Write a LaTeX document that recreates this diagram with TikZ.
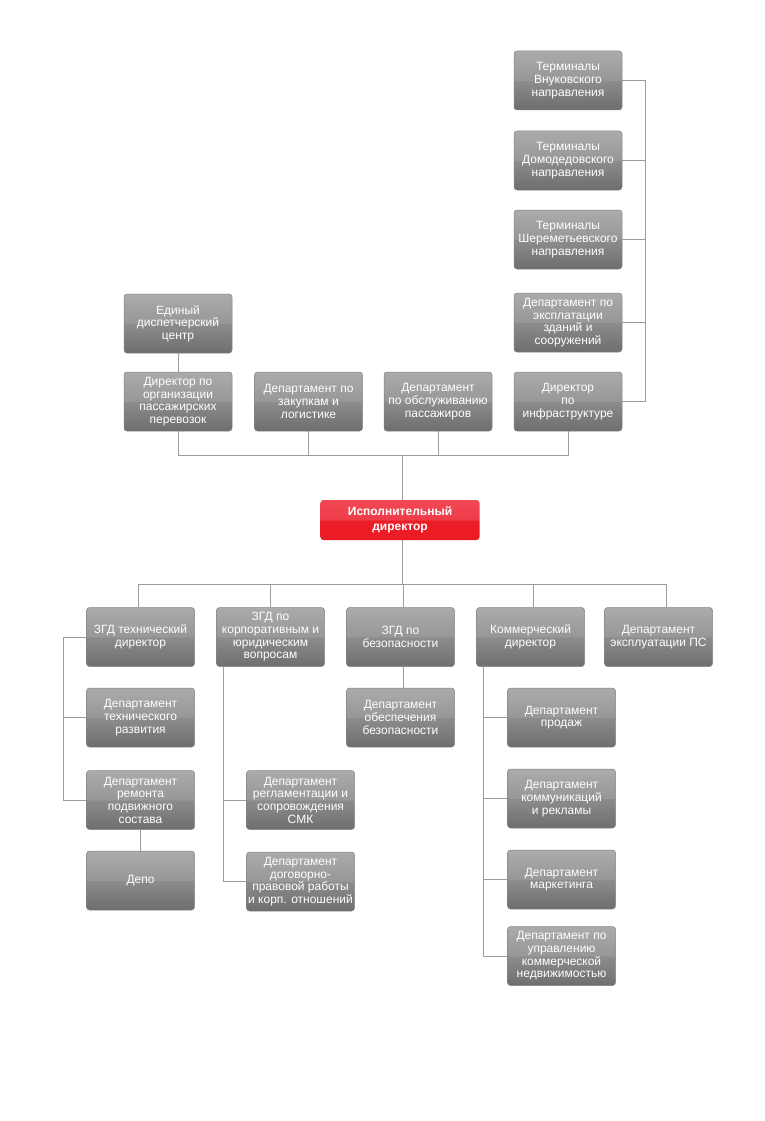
\documentclass[tikz,border=0pt]{standalone}
\usepackage{fontspec}
\setmainfont{Liberation Sans}
\definecolor{gtopA}{HTML}{ABABAB}
\definecolor{gtopB}{HTML}{979797}
\definecolor{gbotA}{HTML}{8C8C8C}
\definecolor{gbotB}{HTML}{6E6E6E}
\definecolor{gedge}{HTML}{858585}
\definecolor{rtopA}{HTML}{F14854}
\definecolor{rtopB}{HTML}{EE3C49}
\definecolor{rbotA}{HTML}{ED1D27}
\definecolor{rbotB}{HTML}{EB1B24}
\definecolor{wire}{HTML}{9C9C9C}
\pgfdeclareverticalshading{grayshade}{100bp}{color(0bp)=(gbotB); color(25bp)=(gbotB); color(49.8bp)=(gbotA); color(50.2bp)=(gtopB); color(75bp)=(gtopA); color(100bp)=(gtopA)}
\pgfdeclareverticalshading{redshade}{100bp}{color(0bp)=(rbotB); color(25bp)=(rbotB); color(49.8bp)=(rbotA); color(50.2bp)=(rtopB); color(75bp)=(rtopA); color(100bp)=(rtopA)}
\tikzset{
  box/.style={rounded corners=3pt, draw=gedge, line width=0.5pt,
    shading=grayshade,
    minimum width=108pt, minimum height=59pt, inner sep=1pt,
    text=white, align=center, font=\fontsize{12}{12.7}\selectfont},
  redbox/.style={rounded corners=3pt, draw=none, shading=redshade,
    minimum width=159pt, minimum height=40pt, inner sep=1pt,
    text=white, align=center, font=\fontsize{12}{15}\selectfont\bfseries},
  wireline/.style={draw=wire, line width=1pt}
}
\begin{document}
\begin{tikzpicture}[x=1pt,y=-1pt]
\useasboundingbox[fill=white] (0,0) rectangle (764,1121);

% right column
\node[box] (vnuk)   at (568,80.5)  {Терминалы\\Внуковского\\направления};
\node[box] (domod)  at (568,160.5) {Терминалы\\Домодедовского\\направления};
\node[box] (sherem) at (568,239.5) {Терминалы\\Шереметьевского\\направления};
\node[box] (expl)   at (568,322.5) {Департамент по\\эксплатации\\зданий и\\сооружений};
\node[box] (infra)  at (568,401.5) {Директор\\по\\инфраструктуре};

% top row
\node[box] (edc)  at (178,323.5) {Единый\\диспетчерский\\центр};
\node[box] (org)  at (178,401.5) {Директор по\\организации\\пассажирских\\перевозок};
\node[box] (zak)  at (308.5,401.5) {Департамент по\\закупкам и\\логистике};
\node[box] (obsl) at (438,401.5) {Департамент\\по обслуживанию\\пассажиров};

% executive
\node[redbox] (exec) at (400,520) {Исполнительный\\директор};

% bottom row
\node[box] (zgdt) at (140.5,637) {ЗГД технический\\директор};
\node[box] (corp) at (270.5,637) {ЗГД по\\корпоративным и\\юридическим\\вопросам};
\node[box] (zgdb) at (400.5,637) {ЗГД по\\безопасности};
\node[box] (kom)  at (530.5,637) {Коммерческий\\директор};
\node[box] (ps)   at (658.5,637) {Департамент\\эксплуатации ПС};

\node[box] (razv)  at (140.5,717.5) {Департамент\\технического\\развития};
\node[box] (rem)   at (140.5,800)   {Департамент\\ремонта\\подвижного\\состава};
\node[box] (depo)  at (140.5,880.5) {Депо};

\node[box] (reg) at (300.5,800)   {Департамент\\регламентации и\\сопровождения\\СМК};
\node[box] (dog) at (300.5,881.5) {Департамент\\договорно-\\правовой работы\\и корп. отношений};

\node[box] (obesp) at (400.5,717.5) {Департамент\\обеспечения\\безопасности};

\node[box] (prod)   at (561.5,717.5) {Департамент\\продаж};
\node[box] (kommun) at (561.5,798.5) {Департамент\\коммуникаций\\и рекламы};
\node[box] (mark)   at (561.5,879.5) {Департамент\\маркетинга};
\node[box] (nedv)   at (561.5,956)   {Департамент по\\управлению\\коммерческой\\недвижимостью};

% buses and spines
\coordinate (tbus) at (0,455);
\coordinate (bbus) at (0,584);
\coordinate (rspine) at ([xshift=23pt]vnuk.east);
\coordinate (lspine) at ([xshift=-23pt]zgdt.west);
\coordinate (cspine) at ([xshift=7pt]corp.south west);
\coordinate (kspine) at ([xshift=7pt]kom.south west);
\coordinate (psin) at ([xshift=8pt]ps.north);

% right column connectors
\draw[wireline] (vnuk.east) -- (rspine |- vnuk.east) -- (rspine |- infra.east) -- (infra.east);
\draw[wireline] (domod.east) -- (rspine |- domod.east);
\draw[wireline] (sherem.east) -- (rspine |- sherem.east);
\draw[wireline] (expl.east) -- (rspine |- expl.east);

% top bus
\draw[wireline] (edc.south) -- (org.north);
\draw[wireline] (org.south) -- (org.south |- tbus) -- (infra.south |- tbus) -- (infra.south);
\draw[wireline] (zak.south) -- (zak.south |- tbus);
\draw[wireline] (obsl.south) -- (obsl.south |- tbus);
\draw[wireline] ([xshift=2pt]exec.north) -- ([xshift=2pt]exec.north |- tbus);

% bottom bus
\draw[wireline] ([xshift=2pt]exec.south) -- ([xshift=2pt]exec.south |- bbus);
\draw[wireline] ([xshift=-2.5pt]zgdt.north) -- ([xshift=-2.5pt]zgdt.north |- bbus) -- (psin |- bbus) -- (psin);
\draw[wireline] (corp.north) -- (corp.north |- bbus);
\draw[wireline] ([xshift=2.5pt]zgdb.north) -- ([xshift=2.5pt]zgdb.north |- bbus);
\draw[wireline] ([xshift=2.5pt]kom.north) -- ([xshift=2.5pt]kom.north |- bbus);

% technical column
\draw[wireline] (zgdt.west) -- (lspine |- zgdt.west) -- (lspine |- rem.west) -- (rem.west);
\draw[wireline] (razv.west) -- (lspine |- razv.west);
\draw[wireline] (rem.south) -- (depo.north);

% corporate column
\draw[wireline] (cspine) -- (cspine |- dog.west) -- (dog.west);
\draw[wireline] (reg.west) -- (cspine |- reg.west);

% security
\draw[wireline] ([xshift=2.5pt]zgdb.south) -- ([xshift=2.5pt]obesp.north);

% commercial column
\draw[wireline] (kspine) -- (kspine |- nedv.west) -- (nedv.west);
\draw[wireline] (prod.west) -- (kspine |- prod.west);
\draw[wireline] (kommun.west) -- (kspine |- kommun.west);
\draw[wireline] (mark.west) -- (kspine |- mark.west);
\end{tikzpicture}
\end{document}
